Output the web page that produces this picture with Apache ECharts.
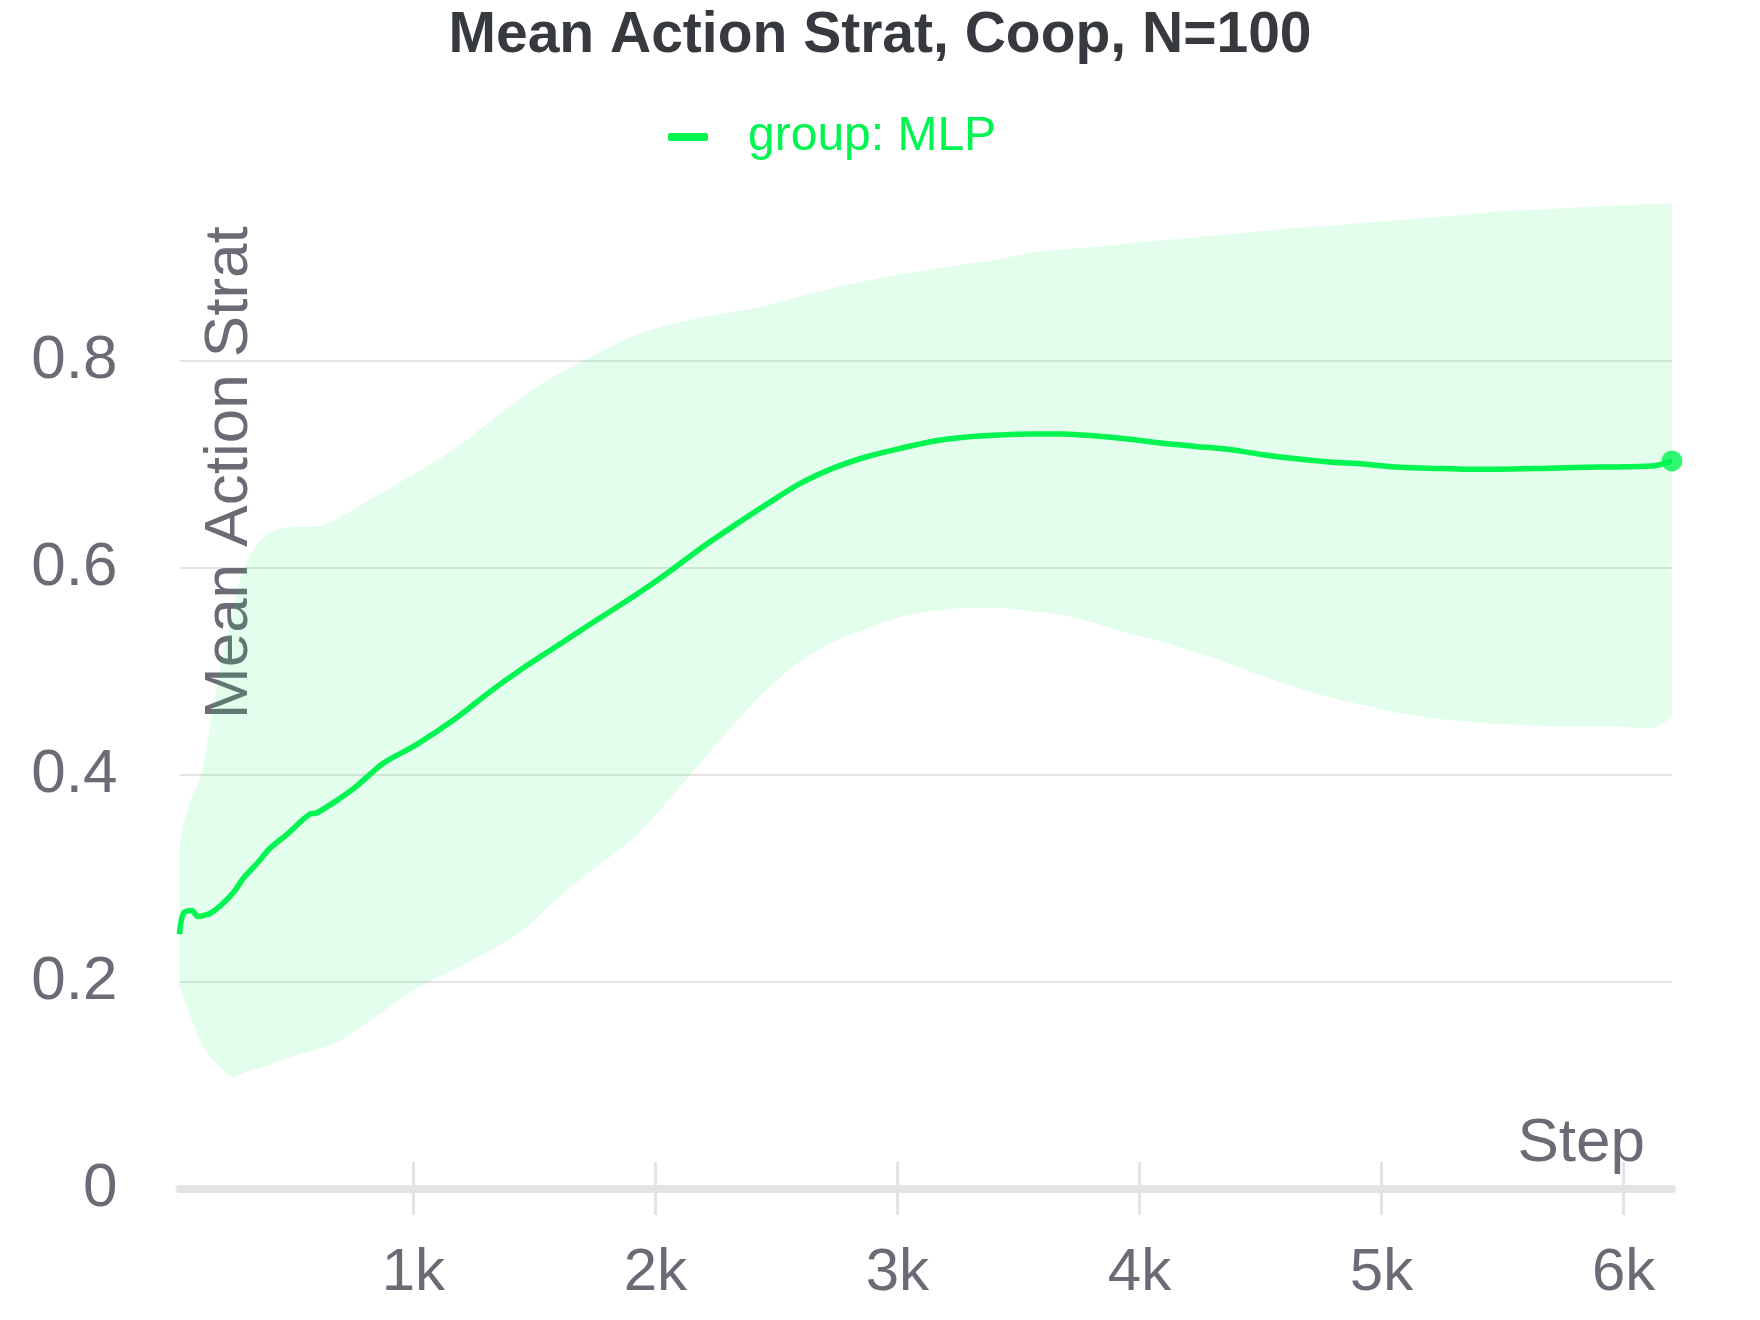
<!DOCTYPE html>
<html>
<head>
<meta charset="utf-8">
<script src="https://cdn.jsdelivr.net/npm/echarts@6/dist/echarts.min.js"></script>
<style>
  html, body { margin: 0; padding: 0; background: #ffffff; }
  #chart { width: 1760px; height: 1320px; }
</style>
</head>
<body>
<div id="chart"></div>
<script>
// ---- data ----
const steps = [34, 50, 84, 112, 132, 160, 201, 256, 298, 353,
  408, 476, 573, 600, 683, 766, 876, 1013, 1179, 1316,
  1454, 1592, 1729, 1909, 2046, 2184, 2322, 2459, 2597, 2735,
  2873, 3010, 3148, 3285, 3423, 3547, 3685, 3822, 3960, 4098,
  4235, 4373, 4511, 4648, 4786, 4924, 5061, 5199, 5364, 5488,
  5695, 5901, 6121, 6200];
const meanValues = [0.246, 0.266, 0.269, 0.263, 0.264, 0.266, 0.273, 0.286, 0.300, 0.314,
  0.329, 0.342, 0.362, 0.363, 0.375, 0.389, 0.411, 0.429, 0.455, 0.480,
  0.503, 0.524, 0.545, 0.572, 0.594, 0.618, 0.640, 0.661, 0.681, 0.696,
  0.707, 0.715, 0.722, 0.726, 0.728, 0.729, 0.729, 0.727, 0.724, 0.720,
  0.717, 0.714, 0.709, 0.705, 0.702, 0.700, 0.697, 0.696, 0.695, 0.695,
  0.696, 0.697, 0.698, 0.703];
const upperValues = [0.330, 0.352, 0.378, 0.392, 0.410, 0.447, 0.502, 0.560, 0.598, 0.622,
  0.634, 0.639, 0.640, 0.640, 0.647, 0.658, 0.673, 0.692, 0.716, 0.741,
  0.766, 0.786, 0.803, 0.824, 0.834, 0.841, 0.847, 0.853, 0.862, 0.870,
  0.877, 0.883, 0.888, 0.893, 0.898, 0.904, 0.907, 0.910, 0.913, 0.916,
  0.919, 0.922, 0.925, 0.928, 0.930, 0.933, 0.935, 0.938, 0.941, 0.944,
  0.946, 0.949, 0.951, 0.952];
const lowerValues = [0.196, 0.185, 0.164, 0.147, 0.137, 0.128, 0.118, 0.108, 0.112, 0.116,
  0.120, 0.126, 0.133, 0.135, 0.141, 0.154, 0.171, 0.194, 0.213, 0.230,
  0.250, 0.280, 0.306, 0.339, 0.373, 0.411, 0.448, 0.482, 0.509, 0.528,
  0.541, 0.552, 0.558, 0.561, 0.561, 0.558, 0.554, 0.546, 0.536, 0.528,
  0.518, 0.507, 0.495, 0.484, 0.475, 0.467, 0.460, 0.455, 0.451, 0.449,
  0.447, 0.447, 0.445, 0.457];
const xTickValues = [1000, 2000, 3000, 4000, 5000, 6000];
const seriesName = 'group: MLP';
const titleText = 'Mean Action Strat, Coop, N=100';
const xName = 'Step';
const yName = 'Mean Action Strat';

// ---- build options ----
const FONT = '"Liberation Sans", Arial, Helvetica, sans-serif';
const GREEN = '#00f550';
const GREY = '#6b6b76';
const AXIS_GREY = '#e4e4e7';

// band rows are [value, step] so that the stack is computed on the y value
const lowerData = steps.map((s, i) => [lowerValues[i], s]);
const bandData = steps.map((s, i) => [+(upperValues[i] - lowerValues[i]).toFixed(4), s]);
const meanData = steps.map((s, i) => [s, meanValues[i]]);
const lastIdx = steps.length - 1;
const xMin = steps[0];
const xMax = steps[lastIdx];

const chart = echarts.init(document.getElementById('chart'), null, { renderer: 'canvas' });
chart.setOption({
  animation: false,
  backgroundColor: '#ffffff',
  textStyle: { fontFamily: FONT },
  title: {
    text: titleText,
    left: 'center',
    top: 8,
    padding: 0,
    textStyle: { fontFamily: FONT, fontSize: 57, fontWeight: 'bold', color: '#36393d' }
  },
  legend: {
    data: [seriesName],
    left: 668,
    top: 113,
    padding: 0,
    icon: 'roundRect',
    itemWidth: 40,
    itemHeight: 8,
    textStyle: { fontFamily: FONT, fontSize: 48, color: GREEN, padding: [0, 0, 0, 35] }
  },
  grid: { left: 179.5, right: 88, top: 203, bottom: 131, containLabel: false },
  xAxis: [{
    type: 'value',
    min: xMin,
    max: xMax,
    position: 'bottom',
    name: xName,
    nameLocation: 'end',
    nameGap: -27,
    nameMoveOverlap: false,
    nameTextStyle: { fontFamily: FONT, fontSize: 62, color: GREY, align: 'right', verticalAlign: 'bottom', padding: [0, 0, 14, 0] },
    axisLine: { show: true, lineStyle: { color: AXIS_GREY, width: 8 } },
    axisTick: { show: true, length: 26, customValues: xTickValues, lineStyle: { color: AXIS_GREY, width: 3 } },
    axisLabel: {
      show: true, customValues: xTickValues, margin: 54,
      fontFamily: FONT, fontSize: 60, color: GREY,
      formatter: v => (v / 1000) + 'k'
    },
    splitLine: { show: false }
  }, {
    type: 'value',
    min: xMin,
    max: xMax,
    position: 'top',
    offset: -986,
    axisLine: { show: false },
    axisTick: { show: true, length: 27, customValues: xTickValues, lineStyle: { color: AXIS_GREY, width: 3 } },
    axisLabel: { show: false },
    splitLine: { show: false }
  }],
  yAxis: {
    type: 'value',
    min: 0,
    max: 0.952,
    interval: 0.2,
    name: yName,
    nameLocation: 'end',
    nameRotate: 90,
    nameGap: -516,
    nameMoveOverlap: false,
    nameTextStyle: { fontFamily: FONT, fontSize: 62, color: GREY, align: 'left', verticalAlign: 'top', lineHeight: 100 },
    axisLine: { show: false },
    axisTick: { show: false },
    axisLabel: {
      margin: 62, fontFamily: FONT, fontSize: 62, color: GREY,
      showMaxLabel: false,
      formatter: v => (v === 0 ? '0' : v.toFixed(1))
    },
    splitLine: { show: true, showMaxLine: false, lineStyle: { color: '#e5e5e5', width: 2 } }
  },
  series: [{
    name: 'lower',
    type: 'line',
    data: lowerData,
    encode: { x: 1, y: 0 },
    stack: 'band',
    smooth: 0.3,
    symbol: 'none',
    lineStyle: { width: 0, opacity: 0 },
    silent: true,
    z: 1
  }, {
    name: 'band',
    type: 'line',
    data: bandData,
    encode: { x: 1, y: 0 },
    stack: 'band',
    smooth: 0.3,
    symbol: 'none',
    lineStyle: { width: 0, opacity: 0 },
    areaStyle: { color: 'rgba(0,245,80,0.11)', opacity: 1 },
    silent: true,
    z: 1
  }, {
    name: seriesName,
    type: 'line',
    data: meanData,
    smooth: 0.3,
    symbol: 'none',
    color: GREEN,
    lineStyle: { color: GREEN, width: 5.5 },
    z: 3
  }, {
    name: 'last',
    type: 'scatter',
    data: [[steps[lastIdx], meanValues[lastIdx]]],
    symbol: 'circle',
    symbolSize: 21,
    itemStyle: { color: GREEN },
    z: 4
  }]
});
</script>
</body>
</html>
